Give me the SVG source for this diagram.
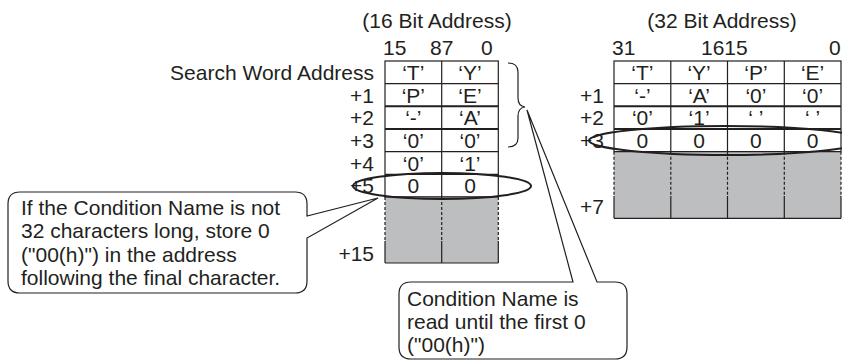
<svg xmlns="http://www.w3.org/2000/svg" width="842" height="362" viewBox="0 0 842 362">
<style>
text{font-family:"Liberation Sans",Arial,sans-serif;font-size:21px;fill:#231f20}
.c{text-anchor:middle}
.r{text-anchor:end}
.ln{stroke:#231f20;stroke-width:1.2;fill:none}
.thk{stroke:#231f20;stroke-width:2;fill:none}
.dash{stroke:#231f20;stroke-width:1.2;stroke-dasharray:3 2;fill:none}
.gray{fill:#bcbec0;stroke:none}
.cell{fill:#ffffff;stroke:#231f20;stroke-width:1.2}
.ell{fill:none;stroke:#231f20;stroke-width:2}
.call{fill:#ffffff;stroke:#231f20;stroke-width:1.2}
</style>
<rect width="842" height="362" fill="#ffffff"/>

<g id="table16">
  <text class="c" x="437" y="28">(16 Bit Address)</text>
  <text x="383" y="55">15</text>
  <text x="430" y="55">87</text>
  <text x="481" y="55">0</text>
  <rect class="cell" x="385" y="61" width="113.3" height="136"/>
  <path class="ln" d="M385 83.7H498.3M385 151.7H498.3M385 174.3H498.3M441.7 61V197"/>
  <path class="thk" d="M385 106.3H498.3M385 129H498.3"/>
  <rect class="gray" x="385" y="197" width="113.3" height="66"/>
  <path class="dash" d="M385 197V241M441.7 197V241M498.3 197V241"/>
  <path class="ln" d="M385 241V263M441.7 241V263M498.3 241V263M385 263H498.3M385 197H498.3"/>
  <text class="r" x="374" y="80">Search Word Address</text>
  <text class="r" x="374" y="102.7">+1</text>
  <text class="r" x="374" y="125.3">+2</text>
  <text class="r" x="374" y="148">+3</text>
  <text class="r" x="374" y="170.7">+4</text>
  <text class="r" x="374" y="193.3">+5</text>
  <text class="r" x="374" y="261">+15</text>
  <text class="c" x="413.3" y="80">‘T’</text><text class="c" x="470" y="80">‘Y’</text>
  <text class="c" x="413.3" y="102.7">‘P’</text><text class="c" x="470" y="102.7">‘E’</text>
  <text class="c" x="413.3" y="125.3">‘-’</text><text class="c" x="470" y="125.3">‘A’</text>
  <text class="c" x="413.3" y="148">‘0’</text><text class="c" x="470" y="148">‘0’</text>
  <text class="c" x="413.3" y="170.7">‘0’</text><text class="c" x="470" y="170.7">‘1’</text>
  <text class="c" x="413.3" y="193.3">0</text><text class="c" x="470" y="193.3">0</text>
</g>

<g id="table32">
  <text class="c" x="722" y="28">(32 Bit Address)</text>
  <text x="612" y="55">31</text>
  <text x="701" y="55">1615</text>
  <text x="829" y="55">0</text>
  <rect class="cell" x="614" y="61" width="227" height="90.7"/>
  <path class="ln" d="M614 83.7H841M670.8 61V151.7M727.5 61V151.7M784.3 61V151.7"/>
  <path class="thk" d="M614 106.3H841M614 129H841"/>
  <rect class="gray" x="614" y="151.7" width="227" height="66.6"/>
  <path class="dash" d="M614 151.7V196M670.8 151.7V196M727.5 151.7V196M784.3 151.7V196M841 151.7V196"/>
  <path class="ln" d="M614 196V218.3M670.8 196V218.3M727.5 196V218.3M784.3 196V218.3M841 196V218.3M614 218.3H841M614 151.7H841"/>
  <text class="r" x="604" y="102.7">+1</text>
  <text class="r" x="604" y="125.3">+2</text>
  <text class="r" x="604" y="148">+3</text>
  <text class="r" x="604" y="214">+7</text>
  <text class="c" x="642.4" y="80">‘T’</text><text class="c" x="699.1" y="80">‘Y’</text><text class="c" x="755.9" y="80">‘P’</text><text class="c" x="812.6" y="80">‘E’</text>
  <text class="c" x="642.4" y="102.7">‘-’</text><text class="c" x="699.1" y="102.7">‘A’</text><text class="c" x="755.9" y="102.7">‘0’</text><text class="c" x="812.6" y="102.7">‘0’</text>
  <text class="c" x="642.4" y="125.3">‘0’</text><text class="c" x="699.1" y="125.3">‘1’</text><text class="c" x="755.9" y="125.3">‘ ’</text><text class="c" x="812.6" y="125.3">‘ ’</text>
  <text class="c" x="642.4" y="148">0</text><text class="c" x="699.1" y="148">0</text><text class="c" x="755.9" y="148">0</text><text class="c" x="812.6" y="148">0</text>
</g>

<g id="connectors">
  <path id="brace" class="ln" d="M508 63Q518 63 518 72V98Q518 106 525 107Q518 108 518 116V138Q518 147 508 147"/>
  <ellipse id="ring16" class="ell" cx="442" cy="186" rx="89" ry="13"/>
  <ellipse id="ring32" class="ell" cx="726" cy="140.5" rx="137" ry="14.5"/>
</g>

<g id="callout-left">
  <path class="call" d="M20 192H295Q307 192 307 204V216L378 198L307 238V281Q307 293 295 293H20Q8 293 8 281V204Q8 192 20 192Z"/>
  <text x="21" y="215">If the Condition Name is not</text>
  <text x="21" y="238.3">32 characters long, store 0</text>
  <text x="21" y="261.6">("00(h)") in the address</text>
  <text x="21" y="285">following the final character.</text>
</g>

<g id="callout-bottom">
  <path class="call" d="M411 282H573L527 110L597 282H615Q627 282 627 294V347Q627 359 615 359H411Q399 359 399 347V294Q399 282 411 282Z"/>
  <text x="407" y="306">Condition Name is</text>
  <text x="407" y="329">read until the first 0</text>
  <text x="407" y="352">("00(h)")</text>
</g>
</svg>
